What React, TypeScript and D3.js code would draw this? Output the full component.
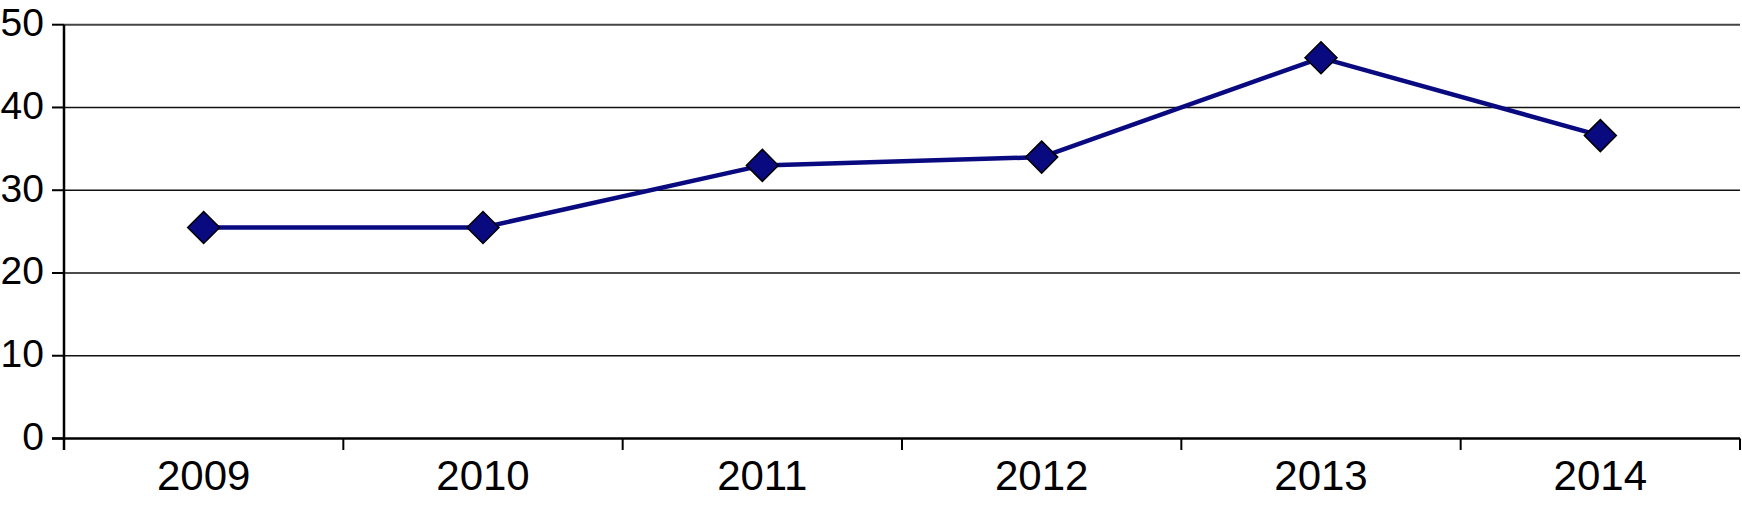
import React from "react";
import * as d3 from "d3";

const years: string[] = ["2009", "2010", "2011", "2012", "2013", "2014"];
const values: number[] = [25.5, 25.5, 33, 34, 46, 36.6];
const yTicks: number[] = [0, 10, 20, 30, 40, 50];

const W = 1742;
const H = 509;
const left = 64;
const right = 1740;
const top = 24.7;
const bottom = 438.5;

export default function App() {
  const x = d3.scaleBand<string>().domain(years).range([left, right]).padding(0);
  const y = d3.scaleLinear().domain([0, 50]).range([bottom, top]);
  const line = d3
    .line<number>()
    .x((_, i) => (x(years[i]) as number) + x.bandwidth() / 2)
    .y((d) => y(d));
  const font = "'Liberation Sans', Arial, Helvetica, sans-serif";
  const r = 16;
  const boundaries = [...years.map((yr) => x(yr) as number), right];

  return (
    <svg
      width={W}
      height={H}
      style={{ position: "absolute", left: 0, top: 0, background: "#fff" }}
      fontFamily={font}
    >
      {yTicks
        .filter((t) => t > 0)
        .map((t) => (
          <line
            key={"g" + t}
            x1={left}
            x2={right}
            y1={y(t)}
            y2={y(t)}
            stroke={t === 50 ? "#444" : "#111"}
            strokeWidth={t === 50 ? 2 : 1.5}
          />
        ))}
      {yTicks.map((t) => (
        <g key={"yt" + t}>
          <line x1={52} x2={left} y1={y(t)} y2={y(t)} stroke="#000" strokeWidth={2} />
          <text
            x={44}
            y={y(t) - 2}
            textAnchor="end"
            dominantBaseline="central"
            fontSize={39}
            fill="#000"
          >
            {t}
          </text>
        </g>
      ))}
      <line x1={left} x2={left} y1={top} y2={450} stroke="#000" strokeWidth={2.5} />
      <line x1={52} x2={right} y1={bottom} y2={bottom} stroke="#000" strokeWidth={2.5} />
      {boundaries.map((bx, i) => (
        <line key={"xt" + i} x1={bx} x2={bx} y1={bottom} y2={450} stroke="#000" strokeWidth={2} />
      ))}
      {years.map((yr) => (
        <text
          key={"xl" + yr}
          x={(x(yr) as number) + x.bandwidth() / 2}
          y={490}
          textAnchor="middle"
          fontSize={42}
          fill="#000"
        >
          {yr}
        </text>
      ))}
      <path d={line(values) || ""} fill="none" stroke="#0a0a80" strokeWidth={4.5} strokeLinejoin="round" />
      {values.map((v, i) => {
        const cx = (x(years[i]) as number) + x.bandwidth() / 2;
        const cy = y(v);
        return (
          <path
            key={"m" + i}
            d={`M${cx},${cy - r}L${cx + r},${cy}L${cx},${cy + r}L${cx - r},${cy}Z`}
            fill="#0a0a80"
            stroke="#000"
            strokeWidth={1.5}
          />
        );
      })}
    </svg>
  );
}
